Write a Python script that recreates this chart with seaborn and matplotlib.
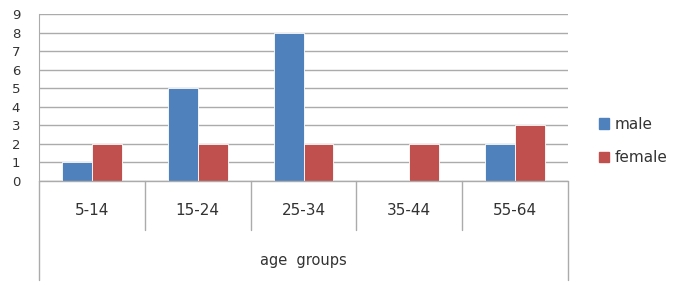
import pandas as pd
import seaborn as sns
import matplotlib.pyplot as plt
import matplotlib.transforms as mtrans

# Data
age_groups = ["5-14", "15-24", "25-34", "35-44", "55-64"]
male = [1, 5, 8, 0, 2]
female = [2, 2, 2, 2, 3]

df = pd.DataFrame({
    "age group": age_groups * 2,
    "count": male + female,
    "sex": ["male"] * len(age_groups) + ["female"] * len(age_groups),
})

palette = {"male": "#4F81BD", "female": "#C0504D"}

sns.set_style("white")
plt.rcParams["font.family"] = ["DejaVu Sans"]

fig = plt.figure(figsize=(6.74, 2.94), dpi=100)
ax = fig.add_axes([39 / 674, 1 - 181 / 294, (568 - 39) / 674, (181 - 14.3) / 294])

sns.barplot(data=df, x="age group", y="count", hue="sex", palette=palette,
            width=0.567, saturation=1, ax=ax, legend=False, zorder=3)
for p in ax.patches:
    p.set_linewidth(0.6)
    p.set_edgecolor("white")

ax.set_ylim(0, 9)
ax.set_xlim(-0.5, len(age_groups) - 0.5)
ax.set_yticks(range(0, 10))
ax.yaxis.grid(True, color="#ababab", linewidth=1.0, zorder=0)
ax.set_axisbelow(True)
for s in ["top", "right", "bottom"]:
    ax.spines[s].set_visible(False)
ax.spines["left"].set_color("#ababab")
ax.tick_params(axis="y", length=4.5, color="#ababab", labelsize=9.5, pad=9,
               labelcolor="#333333")
ax.tick_params(axis="x", length=0, labelsize=11, pad=16, labelcolor="#333333")
ax.set_xlabel("")
ax.set_ylabel("")

# category boxes below the axis
trans = mtrans.blended_transform_factory(ax.transData, ax.transAxes)
h = 181 - 14.3
ax.plot([-0.5, len(age_groups) - 0.5], [0, 0], transform=trans, color="#ababab",
        linewidth=1.0, clip_on=False, zorder=4)
for i in range(len(age_groups) + 1):
    xb = i - 0.5
    yb = -(280 - 181) / h if i in (0, len(age_groups)) else -(230 - 181) / h
    ax.plot([xb, xb], [0, yb], transform=trans, color="#ababab",
            linewidth=1.0, clip_on=False)

ax.text(0.5, -(261 - 181) / h, "age  groups", transform=ax.transAxes,
        ha="center", va="center", fontsize=10.5, color="#333333")

handles = [plt.Rectangle((0, 0), 1, 1, color=palette[k]) for k in ["male", "female"]]
fig.legend(handles, ["male", "female"], loc="center left",
           bbox_to_anchor=(593 / 674, 1 - 141 / 294), frameon=False,
           borderaxespad=0, fontsize=11, handlelength=0.65, handleheight=0.65,
           handletextpad=0.35, labelspacing=1.2, labelcolor="#333333")

fig.savefig("out.png", dpi=100)
